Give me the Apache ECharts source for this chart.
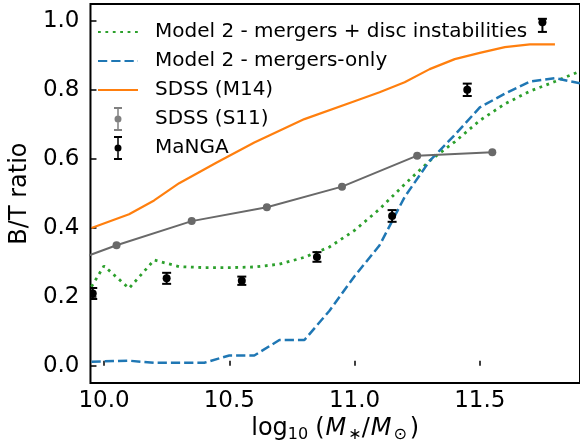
<!DOCTYPE html>
<html><head><meta charset="utf-8">
<script src="https://cdn.jsdelivr.net/npm/echarts@6/dist/echarts.min.js"></script>
<style>html,body{margin:0;padding:0;background:#fff}#c{width:580px;height:448px}</style>
</head><body><div id="c"></div>
<script>
// ---- data ----
const xTicks = [10.0, 10.5, 11.0, 11.5];
const yTicks = [0.0, 0.2, 0.4, 0.6, 0.8, 1.0];

const names = [
  'Model 2 - mergers + disc instabilities',
  'Model 2 - mergers-only',
  'SDSS (M14)',
  'SDSS (S11)',
  'MaNGA'
];

const discX = [9.95, 10.0, 10.1, 10.2, 10.3, 10.4, 10.5, 10.6, 10.7, 10.8, 10.9, 11.0, 11.1, 11.2, 11.3, 11.4, 11.5, 11.6, 11.7, 11.8, 11.9];
const discY = [0.23, 0.29, 0.225, 0.307, 0.288, 0.285, 0.285, 0.287, 0.295, 0.315, 0.345, 0.393, 0.455, 0.527, 0.595, 0.65, 0.712, 0.76, 0.797, 0.825, 0.855];

const mergX = [9.95, 10.1, 10.2, 10.4, 10.5, 10.6, 10.7, 10.8, 10.9, 11.0, 11.1, 11.2, 11.3, 11.4, 11.5, 11.6, 11.7, 11.8, 11.9];
const mergY = [0.012, 0.015, 0.009, 0.009, 0.03, 0.03, 0.075, 0.075, 0.16, 0.26, 0.35, 0.49, 0.595, 0.67, 0.75, 0.79, 0.825, 0.835, 0.82];

const m14X = [9.95, 10.1, 10.2, 10.3, 10.45, 10.6, 10.8, 11.0, 11.1, 11.2, 11.3, 11.4, 11.5, 11.6, 11.7, 11.8];
const m14Y = [0.40, 0.44, 0.48, 0.53, 0.59, 0.648, 0.716, 0.768, 0.794, 0.823, 0.861, 0.89, 0.908, 0.925, 0.933, 0.933];

const s11X = [9.75, 10.05, 10.35, 10.65, 10.95, 11.25, 11.55];
const s11Y = [0.27, 0.35, 0.42, 0.46, 0.52, 0.61, 0.62];

const mangaX = [9.955, 10.25, 10.55, 10.85, 11.15, 11.45, 11.75];
const mangaY = [0.21, 0.254, 0.247, 0.316, 0.435, 0.801, 0.997];
const mangaLo = [0.016, 0.016, 0.012, 0.014, 0.017, 0.018, 0.028];
const mangaHi = [0.016, 0.016, 0.012, 0.014, 0.017, 0.018, 0.010];

// ---- chart ----
const FONT = 'DejaVu Sans';
const zip = (xs, ys) => xs.map((x, i) => [x, ys[i]]);
const ebPath = 'path://M0,0H8V2H0Z M3.25,0H4.75V24H3.25Z M0,22H8V24H0Z M4,8.5A3.5,3.5 0 1 1 4,15.5A3.5,3.5 0 1 1 4,8.5Z';
const noSym = {color: 'rgba(0,0,0,0)', borderWidth: 0};

function renderEB(params, api) {
  const x = api.value(0), y = api.value(1);
  const c = api.coord([x, y]);
  const lo = api.coord([x, y - api.value(2)]);
  const hi = api.coord([x, y + api.value(3)]);
  const hw = 4.5;
  const st = {stroke: '#000', lineWidth: 2};
  return {type: 'group', children: [
    {type: 'line', shape: {x1: c[0], y1: lo[1], x2: c[0], y2: hi[1]}, style: st},
    {type: 'line', shape: {x1: c[0] - hw, y1: lo[1], x2: c[0] + hw, y2: lo[1]}, style: st},
    {type: 'line', shape: {x1: c[0] - hw, y1: hi[1], x2: c[0] + hw, y2: hi[1]}, style: st},
    {type: 'circle', shape: {cx: c[0], cy: c[1], r: 4}, style: {fill: '#000'}}
  ]};
}

const chart = echarts.init(document.getElementById('c'), null, {renderer: 'canvas'});
chart.setOption({
  animation: false,
  backgroundColor: '#fff',
  grid: {left: 79, right: -2, top: 4, bottom: 64, show: true, borderColor: '#000', borderWidth: 2, backgroundColor: 'transparent'},
  legend: {
    orient: 'vertical', left: 97, top: 20, padding: 0, itemWidth: 40, itemHeight: 24, itemGap: 5,
    selectedMode: false,
    formatter: n => '{a|' + n + '}',
    textStyle: {
      fontFamily: FONT, fontSize: 20, color: '#000',
      rich: {a: {fontFamily: FONT, fontSize: 20, color: '#000', lineHeight: 24, height: 24, padding: [0, 0, 0, 12]}}
    },
    data: [
      {name: names[0], itemStyle: noSym},
      {name: names[1], itemStyle: noSym},
      {name: names[2], itemStyle: noSym},
      {name: names[3], icon: ebPath, itemStyle: {color: '#808080'}},
      {name: names[4], icon: ebPath, itemStyle: {color: '#000'}}
    ]
  },
  xAxis: {
    type: 'value', min: 9.946, max: 11.9,
    name: '{n|log}{s|10}{p|(}{i|M}{s|∗}{n|/}{i|M}{s|⊙}{q|)}',
    nameLocation: 'middle', nameGap: 30,
    nameTextStyle: {
      fontFamily: FONT, color: '#000', fontSize: 24,
      rich: {
        n: {fontFamily: FONT, fontSize: 24, color: '#000', lineHeight: 28},
        p: {fontFamily: FONT, fontSize: 24, color: '#000', lineHeight: 28, padding: [0, 0, 0, 7]},
        q: {fontFamily: FONT, fontSize: 24, color: '#000', lineHeight: 28, padding: [0, 0, 0, 3]},
        i: {fontFamily: FONT, fontSize: 24, color: '#000', fontStyle: 'italic', lineHeight: 28, padding: [0, 2, 0, 1]},
        s: {fontFamily: FONT, fontSize: 16, color: '#000', lineHeight: 16, verticalAlign: 'bottom'}
      }
    },
    axisLine: {show: false},
    axisTick: {show: true, inside: true, length: 5, customValues: xTicks, lineStyle: {color: '#000', width: 1.5}},
    axisLabel: {customValues: xTicks, formatter: v => v.toFixed(1), fontFamily: FONT, fontSize: 23, color: '#000', margin: 6},
    splitLine: {show: false}
  },
  yAxis: {
    type: 'value', min: -0.05, max: 1.05,
    name: 'B/T ratio', nameLocation: 'middle', nameGap: 40,
    nameTextStyle: {fontFamily: FONT, fontSize: 24, color: '#000'},
    axisLine: {show: false},
    axisTick: {show: true, inside: true, length: 6, customValues: yTicks, lineStyle: {color: '#000', width: 1.5}},
    axisLabel: {customValues: yTicks, formatter: v => v.toFixed(1), fontFamily: FONT, fontSize: 23, color: '#000', margin: 11},
    splitLine: {show: false}
  },
  series: [
    {name: names[0], type: 'line', data: zip(discX, discY), symbol: 'none', z: 2,
     itemStyle: {color: '#2ca02c'}, lineStyle: {color: '#2ca02c', width: 2.8, type: [2.8, 4.6], cap: 'butt'}},
    {name: names[1], type: 'line', data: zip(mergX, mergY), symbol: 'none', z: 3,
     itemStyle: {color: '#1f77b4'}, lineStyle: {color: '#1f77b4', width: 2.5, type: [9.25, 4], cap: 'butt'}},
    {name: names[2], type: 'line', data: zip(m14X, m14Y), symbol: 'none', z: 4,
     itemStyle: {color: '#ff7f0e'}, lineStyle: {color: '#ff7f0e', width: 2.2}},
    {name: names[3], type: 'line', data: zip(s11X, s11Y), symbol: 'circle', symbolSize: 8, z: 5,
     itemStyle: {color: '#696969'}, lineStyle: {color: '#696969', width: 2}},
    {name: names[4], type: 'custom', renderItem: renderEB, clip: true, z: 10,
     encode: {x: 0, y: 1},
     itemStyle: {color: '#000'},
     data: mangaX.map((x, i) => [x, mangaY[i], mangaLo[i], mangaHi[i]])}
  ]
});
</script>
</body></html>
